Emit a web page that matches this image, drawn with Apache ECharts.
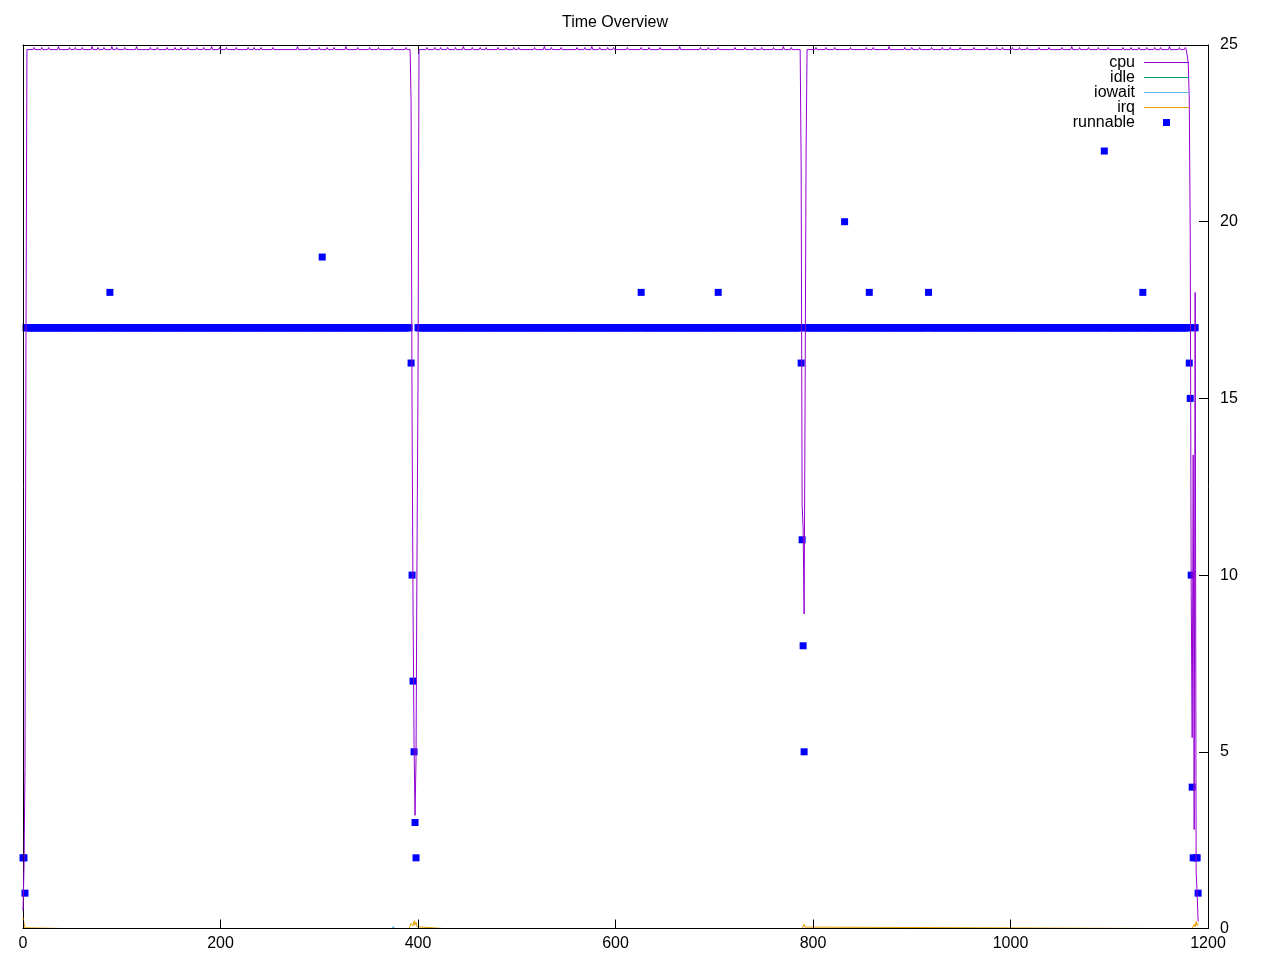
<!DOCTYPE html>
<html>
<head>
<meta charset="utf-8">
<script src="https://cdn.jsdelivr.net/npm/echarts@6/dist/echarts.min.js"></script>
<style>
html,body{margin:0;padding:0;background:#fff;}
#chart{width:1280px;height:960px;}
</style>
</head>
<body>
<div id="chart"></div>
<script>
// ---- data (time in seconds) ----
const titleText = 'Time Overview';
const xTicks = [0, 200, 400, 600, 800, 1000, 1200];
const yTicks = [0, 5, 10, 15, 20, 25];
const seriesNames = ['cpu', 'idle', 'iowait', 'irq', 'runnable'];

// cpu: [second, value]
const cpu = [
[0,0.5],[1,1.7],[2,4.5],[3,16.6],[4,24.87],
[10,24.87],[11,24.93],[12,24.87],[18,24.87],[19,24.93],[20,24.87],[25,24.87],[26,24.93],[27,24.87],
[35,24.87],[36,24.96],[37,24.87],[46,24.87],[47,24.93],[48,24.87],[52,24.87],[53,24.93],[54,24.87],
[59,24.87],[60,24.93],[61,24.87],[69,24.87],[70,24.96],[71,24.87],[75,24.87],[76,24.93],[77,24.87],
[81,24.87],[82,24.93],[83,24.87],[89,24.87],[90,24.96],[91,24.87],[94,24.87],[95,24.93],[96,24.87],
[102,24.87],[103,24.93],[104,24.87],[114,24.87],[115,24.96],[116,24.87],[128,24.87],[129,24.93],[130,24.87],
[135,24.87],[136,24.93],[137,24.87],[145,24.87],[146,24.93],[147,24.87],[153,24.87],[154,24.93],[155,24.87],
[159,24.87],[160,24.93],[161,24.87],[166,24.87],[167,24.93],[168,24.87],[175,24.87],[176,24.93],[177,24.87],
[182,24.87],[183,24.93],[184,24.87],[190,24.87],[191,24.96],[192,24.87],[198,24.87],[199,24.93],[200,24.87],
[205,24.87],[206,24.93],[207,24.87],[215,24.87],[216,24.93],[217,24.87],[227,24.87],[228,24.93],[229,24.87],
[233,24.87],[234,24.93],[235,24.87],[240,24.87],[241,24.93],[242,24.87],[252,24.87],[253,24.93],[254,24.87],
[277,24.87],[278,24.96],[279,24.87],[289,24.87],[290,24.93],[291,24.87],[299,24.87],[300,24.93],[301,24.87],
[307,24.87],[308,24.93],[309,24.87],[314,24.87],[315,24.93],[316,24.87],[326,24.87],[327,24.96],[328,24.87],
[338,24.87],[339,24.93],[340,24.87],[350,24.87],[351,24.93],[352,24.87],[359,24.87],[360,24.93],[361,24.87],
[373,24.87],[374,24.93],[375,24.87],[387,24.87],[388,24.93],[389,24.87],
[392,24.87],[393,23.4],[394,14.5],[395,9.0],[396,5.2],[397,3.2],[398,4.8],[399,10.6],[400,15.4],[401,24.87],
[408,24.87],[409,24.93],[410,24.87],[416,24.87],[417,24.93],[418,24.87],[422,24.87],[423,24.93],[424,24.87],
[429,24.87],[430,24.93],[431,24.87],[437,24.87],[438,24.93],[439,24.87],[445,24.87],[446,24.96],[447,24.87],
[454,24.87],[455,24.93],[456,24.87],[462,24.87],[463,24.93],[464,24.87],[468,24.87],[469,24.93],[470,24.87],
[480,24.87],[481,24.93],[482,24.87],[488,24.87],[489,24.93],[490,24.87],[496,24.87],[497,24.93],[498,24.87],
[501,24.87],[502,24.93],[503,24.87],[517,24.87],[518,24.93],[519,24.87],[527,24.87],[528,24.96],[529,24.87],
[534,24.87],[535,24.93],[536,24.87],[544,24.87],[545,24.93],[546,24.87],[560,24.87],[561,24.93],[562,24.87],
[568,24.87],[569,24.93],[570,24.87],[575,24.87],[576,24.96],[577,24.87],[583,24.87],[584,24.93],[585,24.87],
[591,24.87],[592,24.93],[593,24.87],[597,24.87],[598,24.93],[599,24.87],[611,24.87],[612,24.93],[613,24.87],
[625,24.87],[626,24.93],[627,24.87],[633,24.87],[634,24.93],[635,24.87],[644,24.87],[645,24.93],[646,24.87],
[664,24.87],[665,24.96],[666,24.87],[685,24.87],[686,24.93],[687,24.87],[693,24.87],[694,24.93],[695,24.87],
[703,24.87],[704,24.93],[705,24.87],[720,24.87],[721,24.93],[722,24.87],[730,24.87],[731,24.93],[732,24.87],
[740,24.87],[741,24.93],[742,24.87],[747,24.87],[748,24.93],[749,24.87],[759,24.87],[760,24.93],[761,24.87],
[769,24.87],[770,24.96],[771,24.87],[777,24.87],[778,24.93],[779,24.87],
[787,24.87],[788,21.6],[789,12.0],[790,11.3],[791,8.9],[792,15.0],[793,22.0],[794,24.87],
[802,24.87],[803,24.93],[804,24.87],[812,24.87],[813,24.93],[814,24.87],[821,24.87],[822,24.93],[823,24.87],
[837,24.87],[838,24.93],[839,24.87],[853,24.87],[854,24.93],[855,24.87],[860,24.87],[861,24.93],[862,24.87],
[876,24.87],[877,24.96],[878,24.87],[892,24.87],[893,24.93],[894,24.87],[899,24.87],[900,24.93],[901,24.87],
[907,24.87],[908,24.93],[909,24.87],[919,24.87],[920,24.93],[921,24.87],[930,24.87],[931,24.93],[932,24.87],
[938,24.87],[939,24.93],[940,24.87],[948,24.87],[949,24.93],[950,24.87],[962,24.87],[963,24.93],[964,24.87],
[975,24.87],[976,24.93],[977,24.87],[985,24.87],[986,24.93],[987,24.87],[991,24.87],[992,24.93],[993,24.87],
[1001,24.87],[1002,24.93],[1003,24.87],[1008,24.87],[1009,24.93],[1010,24.87],[1016,24.87],[1017,24.93],[1018,24.87],
[1028,24.87],[1029,24.93],[1030,24.87],[1038,24.87],[1039,24.93],[1040,24.87],[1051,24.87],[1052,24.93],[1053,24.87],
[1061,24.87],[1062,24.96],[1063,24.87],[1069,24.87],[1070,24.93],[1071,24.87],[1078,24.87],[1079,24.93],[1080,24.87],
[1088,24.87],[1089,24.93],[1090,24.87],[1098,24.87],[1099,24.93],[1100,24.87],[1113,24.87],[1114,24.93],[1115,24.87],
[1121,24.87],[1122,24.93],[1123,24.87],[1129,24.87],[1130,24.93],[1131,24.87],[1137,24.87],[1138,24.93],[1139,24.87],
[1145,24.87],[1146,24.93],[1147,24.87],[1151,24.87],[1152,24.93],[1153,24.87],[1160,24.87],[1161,24.96],[1162,24.87],
[1170,24.87],[1171,24.93],[1172,24.87],[1176,24.87],[1177,24.93],[1178,24.87],
[1179,24.87],[1180,24.5],[1181,23.5],[1182,19.7],[1183,9.5],[1184,5.4],[1185,13.4],[1186,2.8],[1187,18.0],
[1188,1.6],[1189,1.0],[1190,0.2]
];

const idle = [[0,0],[1190,0]];

const iowait = [[0,0],[374,0],[375,0.06],[376,0],[540,0],[541,0.04],[542,0],[1190,0]];

const irq = [
[0,0.3],[1,0.15],[2,0.02],[3,0],[40,0],[41,0.03],[42,0],
[391,0],[392,0.04],[393,0.15],[394,0.2],[395,0.07],[396,0.22],[397,0.1],[398,0.18],[399,0.05],[400,0],
[425,0],[426,0.05],[427,0],[758,0],[759,0.04],[760,0],
[789,0],[790,0.05],[791,0.12],[792,0.04],[793,0],
[1140,0],[1141,0.03],[1142,0],[1146,0],[1147,0.03],[1148,0],
[1184,0],[1185,0.05],[1186,0.12],[1187,0.05],[1188,0.2],[1189,0.08],[1190,0.15]
];

// runnable: one value per second, starting at second 0 (null = no sample)
const runnable = [
2,2,1,17,17,17,17,17,17,17, 17,17,17,17,17,17,17,17,17,17, 17,17,17,17,17,17,17,17,17,17, 17,17,17,17,17,17,17,17,17,17, 17,17,17,17,17,17,17,17,17,17,
17,17,17,17,17,17,17,17,17,17, 17,17,17,17,17,17,17,17,17,17, 17,17,17,17,17,17,17,17,17,17, 17,17,17,17,17,17,17,17,18,17, 17,17,17,17,17,17,17,17,17,17,
17,17,17,17,17,17,17,17,17,17, 17,17,17,17,17,17,17,17,17,17, 17,17,17,17,17,17,17,17,17,17, 17,17,17,17,17,17,17,17,17,17, 17,17,17,17,17,17,17,17,17,17,
17,17,17,17,17,17,17,17,17,17, 17,17,17,17,17,17,17,17,17,17, 17,17,17,17,17,17,17,17,17,17, 17,17,17,17,17,17,17,17,17,17, 17,17,17,17,17,17,17,17,17,17,
17,17,17,17,17,17,17,17,17,17, 17,17,17,17,17,17,17,17,17,17, 17,17,17,17,17,17,17,17,17,17, 17,17,17,17,17,17,17,17,17,17, 17,17,17,17,17,17,17,17,17,17,
17,17,17,17,17,17,17,17,17,17, 17,17,17,17,17,17,17,17,17,17, 17,17,17,17,17,17,17,17,17,17, 17,17,17,17,17,17,17,17,17,17, 17,17,17,17,17,17,17,17,17,17,
17,17,17,19,17,17,17,17,17,17, 17,17,17,17,17,17,17,17,17,17, 17,17,17,17,17,17,17,17,17,17, 17,17,17,17,17,17,17,17,17,17, 17,17,17,17,17,17,17,17,17,17,
17,17,17,17,17,17,17,17,17,17, 17,17,17,17,17,17,17,17,17,17, 17,17,17,17,17,17,17,17,17,17, 17,17,17,17,17,17,17,17,17,17, 17,17,null,16,10,7,5,3,2,null,
17,17,17,17,17,17,17,17,17,17, 17,17,17,17,17,17,17,17,17,17, 17,17,17,17,17,17,17,17,17,17, 17,17,17,17,17,17,17,17,17,17, 17,17,17,17,17,17,17,17,17,17,
17,17,17,17,17,17,17,17,17,17, 17,17,17,17,17,17,17,17,17,17, 17,17,17,17,17,17,17,17,17,17, 17,17,17,17,17,17,17,17,17,17, 17,17,17,17,17,17,17,17,17,17,
17,17,17,17,17,17,17,17,17,17, 17,17,17,17,17,17,17,17,17,17, 17,17,17,17,17,17,17,17,17,17, 17,17,17,17,17,17,17,17,17,17, 17,17,17,17,17,17,17,17,17,17,
17,17,17,17,17,17,17,17,17,17, 17,17,17,17,17,17,17,17,17,17, 17,17,17,17,17,17,17,17,17,17, 17,17,17,17,17,17,17,17,17,17, 17,17,17,17,17,17,17,17,17,17,
17,17,17,17,17,17,17,17,17,17, 17,17,17,17,17,17,17,17,17,17, 17,17,17,17,17,17,18,17,17,17, 17,17,17,17,17,17,17,17,17,17, 17,17,17,17,17,17,17,17,17,17,
17,17,17,17,17,17,17,17,17,17, 17,17,17,17,17,17,17,17,17,17, 17,17,17,17,17,17,17,17,17,17, 17,17,17,17,17,17,17,17,17,17, 17,17,17,17,17,17,17,17,17,17,
17,17,17,17,18,17,17,17,17,17, 17,17,17,17,17,17,17,17,17,17, 17,17,17,17,17,17,17,17,17,17, 17,17,17,17,17,17,17,17,17,17, 17,17,17,17,17,17,17,17,17,17,
17,17,17,17,17,17,17,17,17,17, 17,17,17,17,17,17,17,17,17,17, 17,17,17,17,17,17,17,17,17,17, 17,17,17,17,17,17,17,17,16,11, 8,5,17,17,17,17,17,17,17,17,
17,17,17,17,17,17,17,17,17,17, 17,17,17,17,17,17,17,17,17,17, 17,17,17,17,17,17,17,17,17,17, 17,17,20,17,17,17,17,17,17,17, 17,17,17,17,17,17,17,17,17,17,
17,17,17,17,17,17,17,18,17,17, 17,17,17,17,17,17,17,17,17,17, 17,17,17,17,17,17,17,17,17,17, 17,17,17,17,17,17,17,17,17,17, 17,17,17,17,17,17,17,17,17,17,
17,17,17,17,17,17,17,17,17,17, 17,17,17,17,17,17,17,18,17,17, 17,17,17,17,17,17,17,17,17,17, 17,17,17,17,17,17,17,17,17,17, 17,17,17,17,17,17,17,17,17,17,
17,17,17,17,17,17,17,17,17,17, 17,17,17,17,17,17,17,17,17,17, 17,17,17,17,17,17,17,17,17,17, 17,17,17,17,17,17,17,17,17,17, 17,17,17,17,17,17,17,17,17,17,
17,17,17,17,17,17,17,17,17,17, 17,17,17,17,17,17,17,17,17,17, 17,17,17,17,17,17,17,17,17,17, 17,17,17,17,17,17,17,17,17,17, 17,17,17,17,17,17,17,17,17,17,
17,17,17,17,17,17,17,17,17,17, 17,17,17,17,17,17,17,17,17,17, 17,17,17,17,17,17,17,17,17,17, 17,17,17,17,17,17,17,17,17,17, 17,17,17,17,17,22,17,17,17,17,
17,17,17,17,17,17,17,17,17,17, 17,17,17,17,17,17,17,17,17,17, 17,17,17,17,17,17,17,17,17,17, 17,17,17,17,18,17,17,17,17,17, 17,17,17,17,17,17,17,17,17,17,
17,17,17,17,17,17,17,17,17,17, 17,17,17,17,17,17,17,17,17,17, 17,17,17,17,17,17,17,17,17,17, 17,16,15,10,4,2,17,17,2,2, 1
];

// ---- styling ----
const FONT = '"Liberation Sans", Arial, sans-serif';
const colors = { cpu: '#9400d3', idle: '#009e73', iowait: '#56b4e9', irq: '#e69f00', runnable: '#0000ff' };

const runnablePoints = [];
runnable.forEach(function (v, i) { if (v !== null) runnablePoints.push([i, v]); });

const lineData = { cpu: cpu, idle: idle, iowait: iowait, irq: irq };

const chart = echarts.init(document.getElementById('chart'), null, { renderer: 'canvas' });

const xMin = xTicks[0], xMax = xTicks[xTicks.length - 1], xInt = xTicks[1] - xTicks[0];
const yMin = yTicks[0], yMax = yTicks[yTicks.length - 1], yInt = yTicks[1] - yTicks[0];

const lineIcon = 'path://M0,0H45V1H0Z';
const squareIcon = 'path://M0,0H10V10H0Z';

const series = ['cpu', 'idle', 'iowait', 'irq'].map(function (n) {
  return {
    name: n, type: 'line', data: lineData[n], xAxisIndex: 0, yAxisIndex: 1,
    symbol: 'none', showSymbol: false, clip: false, silent: true,
    lineStyle: { width: 1, color: colors[n], opacity: 1 }, itemStyle: { color: colors[n], opacity: 1 },
    emphasis: { disabled: true }
  };
});
series.push({
  name: 'runnable', type: 'scatter', data: runnablePoints, xAxisIndex: 0, yAxisIndex: 1,
  symbol: 'rect', symbolSize: 7, clip: false, silent: true,
  itemStyle: { color: colors.runnable, opacity: 1 }, emphasis: { disabled: true }
});

chart.setOption({
  animation: false,
  backgroundColor: '#ffffff',
  textStyle: { fontFamily: FONT },
  title: {
    text: titleText, left: 615, top: 15, textAlign: 'center', padding: 0,
    textStyle: { fontFamily: FONT, fontSize: 16, fontWeight: 'normal', color: '#000', lineHeight: 16 }
  },
  legend: {
    orient: 'vertical', align: 'right', right: 91, top: 54.5, padding: 0, itemGap: -1,
    itemWidth: 45, itemHeight: 7, selectedMode: false,
    textStyle: { fontFamily: FONT, fontSize: 16, color: '#000', lineHeight: 15, padding: [0, 4, 0, 0] },
    data: seriesNames.map(function (n) {
      return { name: n, icon: n === 'runnable' ? squareIcon : lineIcon, itemStyle: { opacity: 1 } };
    })
  },
  grid: { left: 23, right: 72, top: 45, bottom: 31.5, containLabel: false },
  xAxis: [
    {
      type: 'value', position: 'bottom', min: xMin, max: xMax, interval: xInt, zlevel: 1, z: 3,
      axisLine: { show: true, onZero: false, lineStyle: { color: '#000', width: 1 } },
      axisTick: { show: true, inside: true, length: 9, lineStyle: { color: '#000' } },
      axisLabel: { show: true, margin: 7, fontSize: 16, color: '#000', fontFamily: FONT,
        formatter: function (v) { return String(v); } },
      splitLine: { show: false }
    },
    {
      type: 'value', position: 'top', min: xMin, max: xMax, interval: xInt, z: 3,
      axisLine: { show: true, onZero: false, lineStyle: { color: '#000', width: 1 } },
      axisTick: { show: true, inside: true, length: 9, lineStyle: { color: '#000' } },
      axisLabel: { show: false },
      splitLine: { show: false }
    }
  ],
  yAxis: [
    {
      type: 'value', position: 'left', min: yMin, max: yMax, interval: yInt, z: 3,
      axisLine: { show: true, onZero: false, lineStyle: { color: '#000', width: 1 } },
      axisTick: { show: false }, axisLabel: { show: false }, splitLine: { show: false }
    },
    {
      type: 'value', position: 'right', min: yMin, max: yMax, interval: yInt, z: 3,
      axisLine: { show: true, onZero: false, lineStyle: { color: '#000', width: 1 } },
      axisTick: { show: true, inside: true, length: 9, lineStyle: { color: '#000' } },
      axisLabel: { show: true, margin: 12, fontSize: 16, color: '#000', fontFamily: FONT,
        formatter: function (v) { return String(v); } },
      splitLine: { show: false }
    }
  ],
  series: series
});
</script>
</body>
</html>
